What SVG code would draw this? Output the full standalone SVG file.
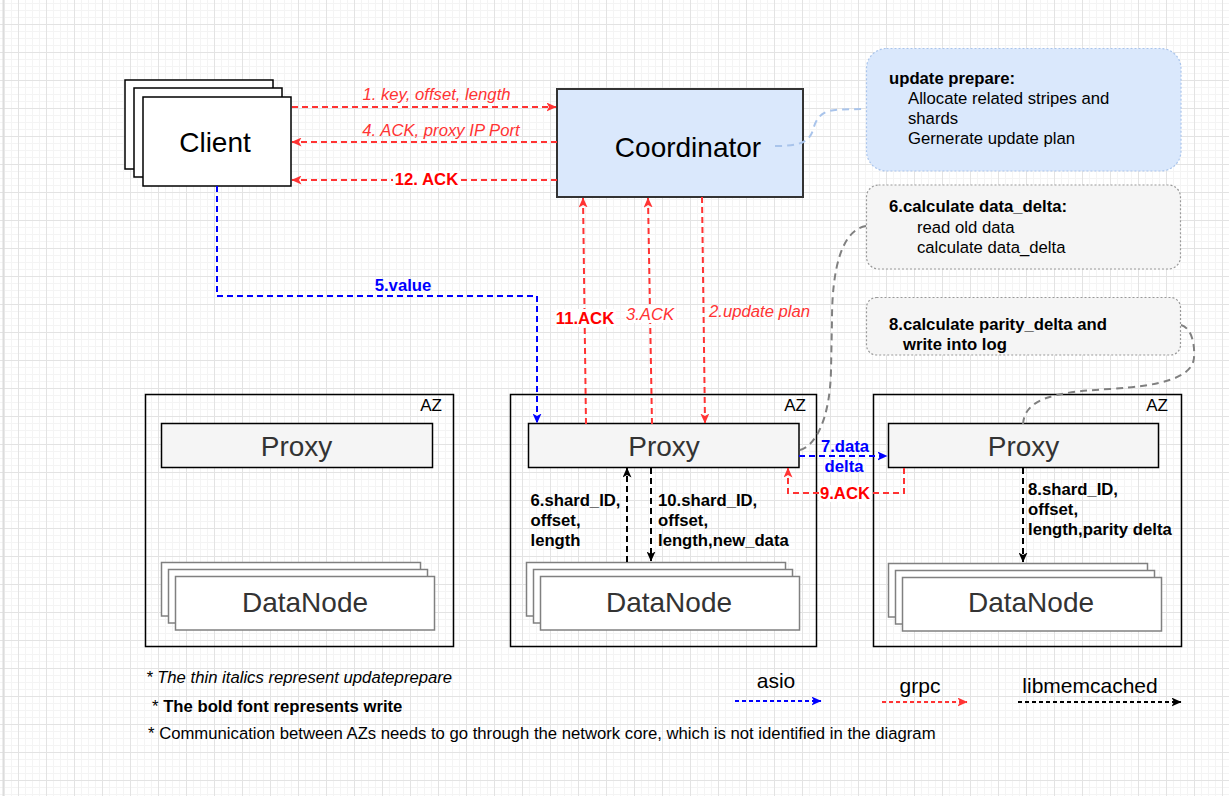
<svg xmlns="http://www.w3.org/2000/svg" width="1229" height="796" viewBox="0 0 1229 796">
<style>
text{font-family:"Liberation Sans",Arial,Helvetica,sans-serif}
.big{font-size:28px;text-anchor:middle}
.sm{font-size:16.7px}
.az{font-size:17px;text-anchor:end;fill:#000}
.b{font-weight:bold}
.i{font-style:italic}
.mid{text-anchor:middle}
.red{fill:#FF0000}
.red2{fill:#FF3333}
.blue{fill:#0000FF}
.blk{fill:#000}
.dk{fill:#333}
.box{fill:#fff;stroke:#000;stroke-width:1.5}
.azb{fill:none;stroke:#000;stroke-width:1.5}
.proxy{fill:#f5f5f5;stroke:#000;stroke-width:1.5}
.dn{fill:#fff;stroke:#808080;stroke-width:1.5}
.eR{fill:none;stroke:#FF3333;stroke-width:2;stroke-dasharray:6 4}
.eB{fill:none;stroke:#0000FF;stroke-width:2;stroke-dasharray:6 4}
.eK{fill:none;stroke:#000;stroke-width:2;stroke-dasharray:6 4}
.eG{fill:none;stroke:#808080;stroke-width:2;stroke-dasharray:7 5}
.eL{fill:none;stroke:#A9C4EB;stroke-width:2;stroke-dasharray:7 5}
.lg{stroke-dasharray:4 3}
.bg{fill:#fff}
</style>
<defs>
<pattern id="gMinor" width="7" height="7" patternUnits="userSpaceOnUse" x="18" y="24">
<path d="M0 0.5H7M0.5 0V7" fill="none" stroke="#f4f4f4" stroke-width="1"/>
</pattern>
<pattern id="gMajor" width="28" height="28" patternUnits="userSpaceOnUse" x="18" y="24">
<path d="M0 0.5H28M0.5 0V28" fill="none" stroke="#e3e3e3" stroke-width="1"/>
</pattern>
<marker id="ahR" viewBox="0 0 10 9" refX="9.5" refY="4.5" markerWidth="10" markerHeight="9" markerUnits="userSpaceOnUse" orient="auto"><path d="M0 0L10 4.5L0 9L2.5 4.5Z" fill="#FF3333"/></marker>
<marker id="ahB" viewBox="0 0 10 9" refX="9.5" refY="4.5" markerWidth="10" markerHeight="9" markerUnits="userSpaceOnUse" orient="auto"><path d="M0 0L10 4.5L0 9L2.5 4.5Z" fill="#0000FF"/></marker>
<marker id="ahK" viewBox="0 0 10 9" refX="9.5" refY="4.5" markerWidth="10" markerHeight="9" markerUnits="userSpaceOnUse" orient="auto"><path d="M0 0L10 4.5L0 9L2.5 4.5Z" fill="#000"/></marker>
</defs>

<rect x="0" y="0" width="1229" height="796" fill="#fff"/>
<rect x="0" y="0" width="1229" height="796" fill="url(#gMinor)"/>
<rect x="0" y="0" width="1229" height="796" fill="url(#gMajor)"/>
<line x1="3.5" y1="0" x2="3.5" y2="796" stroke="#dcdcdc" stroke-width="2"/>

<g id="client">
<rect class="box" x="125" y="80" width="148" height="89"/>
<rect class="box" x="134" y="88" width="148" height="89"/>
<rect class="box" x="143" y="97" width="148" height="89"/>
<text class="big blk" x="215" y="152">Client</text>
</g>

<g id="coordinator">
<rect x="557" y="89" width="246" height="108" fill="#dae8fc" stroke="#333" stroke-width="2"/>
<text class="big blk" x="688" y="157">Coordinator</text>
</g>

<g id="note-prepare">
<rect x="866.5" y="48.5" width="314.5" height="122.5" rx="20" fill="#dae8fc" stroke="#A9C4EB" stroke-width="1.2" stroke-dasharray="2 2"/>
<text class="sm b blk" x="889" y="83.5">update prepare:</text>
<text class="sm blk" x="908" y="103.5">Allocate related stripes and</text>
<text class="sm blk" x="908" y="124">shards</text>
<text class="sm blk" x="908" y="143.7">Gernerate update plan</text>
</g>

<g id="note-6">
<rect x="866.5" y="185" width="314" height="84" rx="12" fill="#f5f5f5" stroke="#999" stroke-width="1.2" stroke-dasharray="2 2"/>
<text class="sm b blk" x="889" y="212">6.calculate data_delta:</text>
<text class="sm blk" x="917" y="232.7">read old data</text>
<text class="sm blk" x="917" y="253">calculate data_delta</text>
</g>

<g id="note-8">
<rect x="866.5" y="297.5" width="314" height="57.5" rx="10" fill="#f5f5f5" stroke="#999" stroke-width="1.2" stroke-dasharray="2 2"/>
<text class="sm b blk" x="889" y="330">8.calculate parity_delta and</text>
<text class="sm b blk" x="903" y="350">write into log</text>
</g>

<g id="az1">
<rect class="azb" x="145.5" y="394.5" width="308" height="252"/>
<text class="az" x="442" y="411">AZ</text>
</g>
<g id="az2">
<rect class="azb" x="510.5" y="394.5" width="306" height="252"/>
<text class="az" x="806" y="411">AZ</text>
</g>
<g id="az3">
<rect class="azb" x="873.5" y="394.5" width="308" height="252"/>
<text class="az" x="1168" y="411">AZ</text>
</g>

<g id="proxy1">
<rect class="proxy" x="161.5" y="423.5" width="271" height="44"/>
<text class="big dk" x="296.5" y="456">Proxy</text>
</g>
<g id="proxy2">
<rect class="proxy" x="528.5" y="423.5" width="270.5" height="44"/>
<text class="big dk" x="664" y="456">Proxy</text>
</g>
<g id="proxy3">
<rect class="proxy" x="888.5" y="423.5" width="270" height="44"/>
<text class="big dk" x="1023.5" y="456">Proxy</text>
</g>

<g id="datanode1">
<rect class="dn" x="161.5" y="562.5" width="259" height="53.5"/>
<rect class="dn" x="168.5" y="569.5" width="259" height="53.5"/>
<rect class="dn" x="175.5" y="576.5" width="259" height="53.5"/>
<text class="big dk" x="305" y="612">DataNode</text>
</g>
<g id="datanode2">
<rect class="dn" x="526.5" y="562.5" width="259" height="53.5"/>
<rect class="dn" x="533.5" y="569.5" width="259" height="53.5"/>
<rect class="dn" x="540.5" y="576.5" width="259" height="53.5"/>
<text class="big dk" x="669" y="612">DataNode</text>
</g>
<g id="datanode3">
<rect class="dn" x="888.5" y="563.5" width="259" height="53.5"/>
<rect class="dn" x="895.5" y="570.5" width="259" height="53.5"/>
<rect class="dn" x="902.5" y="577.5" width="259" height="53.5"/>
<text class="big dk" x="1031" y="612">DataNode</text>
</g>

<g id="connectors">
<path class="eR" d="M292 107H556" marker-end="url(#ahR)"/>
<path class="eR" d="M557 142H292" marker-end="url(#ahR)"/>
<path class="eR" d="M557 180H292" marker-end="url(#ahR)"/>
<path class="eR" d="M586 424L583 198" marker-end="url(#ahR)"/>
<path class="eR" d="M652 424L648 198" marker-end="url(#ahR)"/>
<path class="eR" d="M702 197L705 423" marker-end="url(#ahR)"/>
<path class="eB" d="M217 186V296H537V423" marker-end="url(#ahB)"/>
<path class="eB" d="M799 456H887" marker-end="url(#ahB)"/>
<path class="eR" d="M904 468V493H788V468" marker-end="url(#ahR)"/>
<path class="eK" d="M627 562V468" marker-end="url(#ahK)"/>
<path class="eK" d="M651 468V561" marker-end="url(#ahK)"/>
<path class="eK" d="M1023 468V562" marker-end="url(#ahK)"/>
<path class="eL" d="M775 146C798 146 809 143 813 130C817 115 824 110 840 109.5L866 109"/>
<path class="eG" d="M866 226C842 230 832 268 832 320L831 370C830 420 815 446 800 450"/>
<path class="eG" d="M1181 325C1192 328 1195 345 1194 358C1192 378 1160 386 1110 389C1050 392 1025 400 1023 424"/>

<text class="sm i red2 mid" x="436.5" y="100">1. key, offset, length</text>
<text class="sm i red2 mid" x="441" y="136">4. ACK, proxy IP Port</text>
<rect class="bg" x="393" y="171" width="67" height="17"/>
<text class="sm b red mid" x="426.5" y="185">12. ACK</text>
<text class="sm b blue mid" x="403" y="291">5.value</text>
<rect class="bg" x="555" y="309" width="61" height="18"/>
<text class="sm b red mid" x="585" y="324">11.ACK</text>
<rect class="bg" x="625" y="305" width="51" height="18"/>
<text class="sm i red2 mid" x="650" y="320">3.ACK</text>
<text class="sm i red2" x="709" y="317">2.update plan</text>
<text class="sm b blue mid" x="845" y="452">7.data</text>
<text class="sm b blue mid" x="844" y="472">delta</text>
<rect class="bg" x="819" y="485" width="52" height="17"/>
<text class="sm b red mid" x="845" y="499">9.ACK</text>
<text class="sm b blk" x="530.5" y="505.5">6.shard_ID,</text>
<text class="sm b blk" x="530.5" y="526">offset,</text>
<text class="sm b blk" x="530.5" y="546">length</text>
<text class="sm b blk" x="658" y="505.5">10.shard_ID,</text>
<text class="sm b blk" x="658" y="526">offset,</text>
<text class="sm b blk" x="658" y="546">length,new_data</text>
<text class="sm b blk" x="1028" y="494.5">8.shard_ID,</text>
<text class="sm b blk" x="1028" y="514.5">offset,</text>
<text class="sm b blk" x="1028" y="535">length,parity delta</text>
</g>

<g id="legend">
<text class="sm i blk" x="146" y="683">* The thin italics represent updateprepare</text>
<text class="sm blk" x="152" y="712">* <tspan class="b">The bold font represents write</tspan></text>
<text class="sm blk" x="148" y="739">* Communication between AZs needs to go through the network core, which is not identified in the diagram</text>
<text class="blk mid" x="776" y="688" font-size="21">asio</text>
<text class="blk mid" x="920" y="693" font-size="21">grpc</text>
<text class="blk mid" x="1090" y="693" font-size="21">libmemcached</text>
<path class="eB lg" d="M735 701H821" marker-end="url(#ahB)"/>
<path class="eR lg" d="M882 702H967" marker-end="url(#ahR)"/>
<path class="eK lg" d="M1018 702H1181" marker-end="url(#ahK)"/>
</g>
</svg>
